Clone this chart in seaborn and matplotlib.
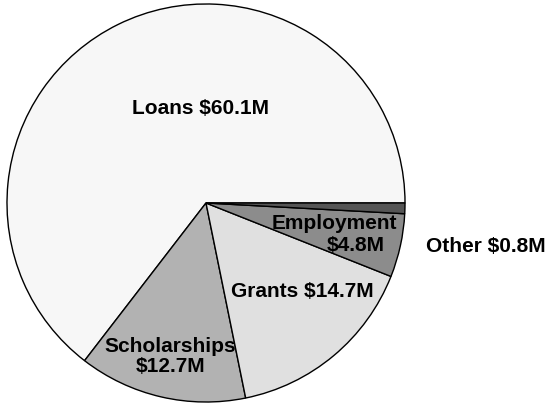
import matplotlib
matplotlib.use("Agg")
import matplotlib.pyplot as plt
import seaborn as sns

# aide financiere par source (millions $)
sources = ["Loans", "Scholarships", "Grants", "Employment", "Other"]
amounts = [60.1, 12.7, 14.7, 4.8, 0.8]
colors = ["#f7f7f7", "#b2b2b2", "#e0e0e0", "#8c8c8c", "#555555"]

sns.set_style("white")
plt.rcParams['font.family'] = ['Liberation Sans', 'DejaVu Sans']

fig = plt.figure(figsize=(5.5, 4.04), dpi=100)
ax = fig.add_axes([5 / 550, 0, 402 / 550, 402 / 404])
ax.pie(amounts, colors=colors, startangle=0, counterclock=True,
       wedgeprops={'edgecolor': 'black', 'linewidth': 1.0})
ax.set_xlim(-1.01, 1.01)
ax.set_ylim(-1.01, 1.01)
ax.set_aspect('equal')

# etiquettes
txt = dict(va='center', fontsize=15, fontweight='bold', color='black', clip_on=False)
ax.text(-0.03, 0.473, "Loans $60.1M", ha='center', **txt)
ax.text(-0.179, -0.771, "Scholarships\n$12.7M", ha='center',
        multialignment='center', linespacing=1.1, **txt)
ax.text(0.485, -0.443, "Grants $14.7M", ha='center', **txt)
ax.text(0.644, -0.102, "Employment", ha='center', **txt)
ax.text(0.754, -0.216, "$4.8M", ha='center', **txt)
ax.text(1.104, -0.219, "Other $0.8M", ha='left', **txt)

fig.savefig("out.png", dpi=100)
